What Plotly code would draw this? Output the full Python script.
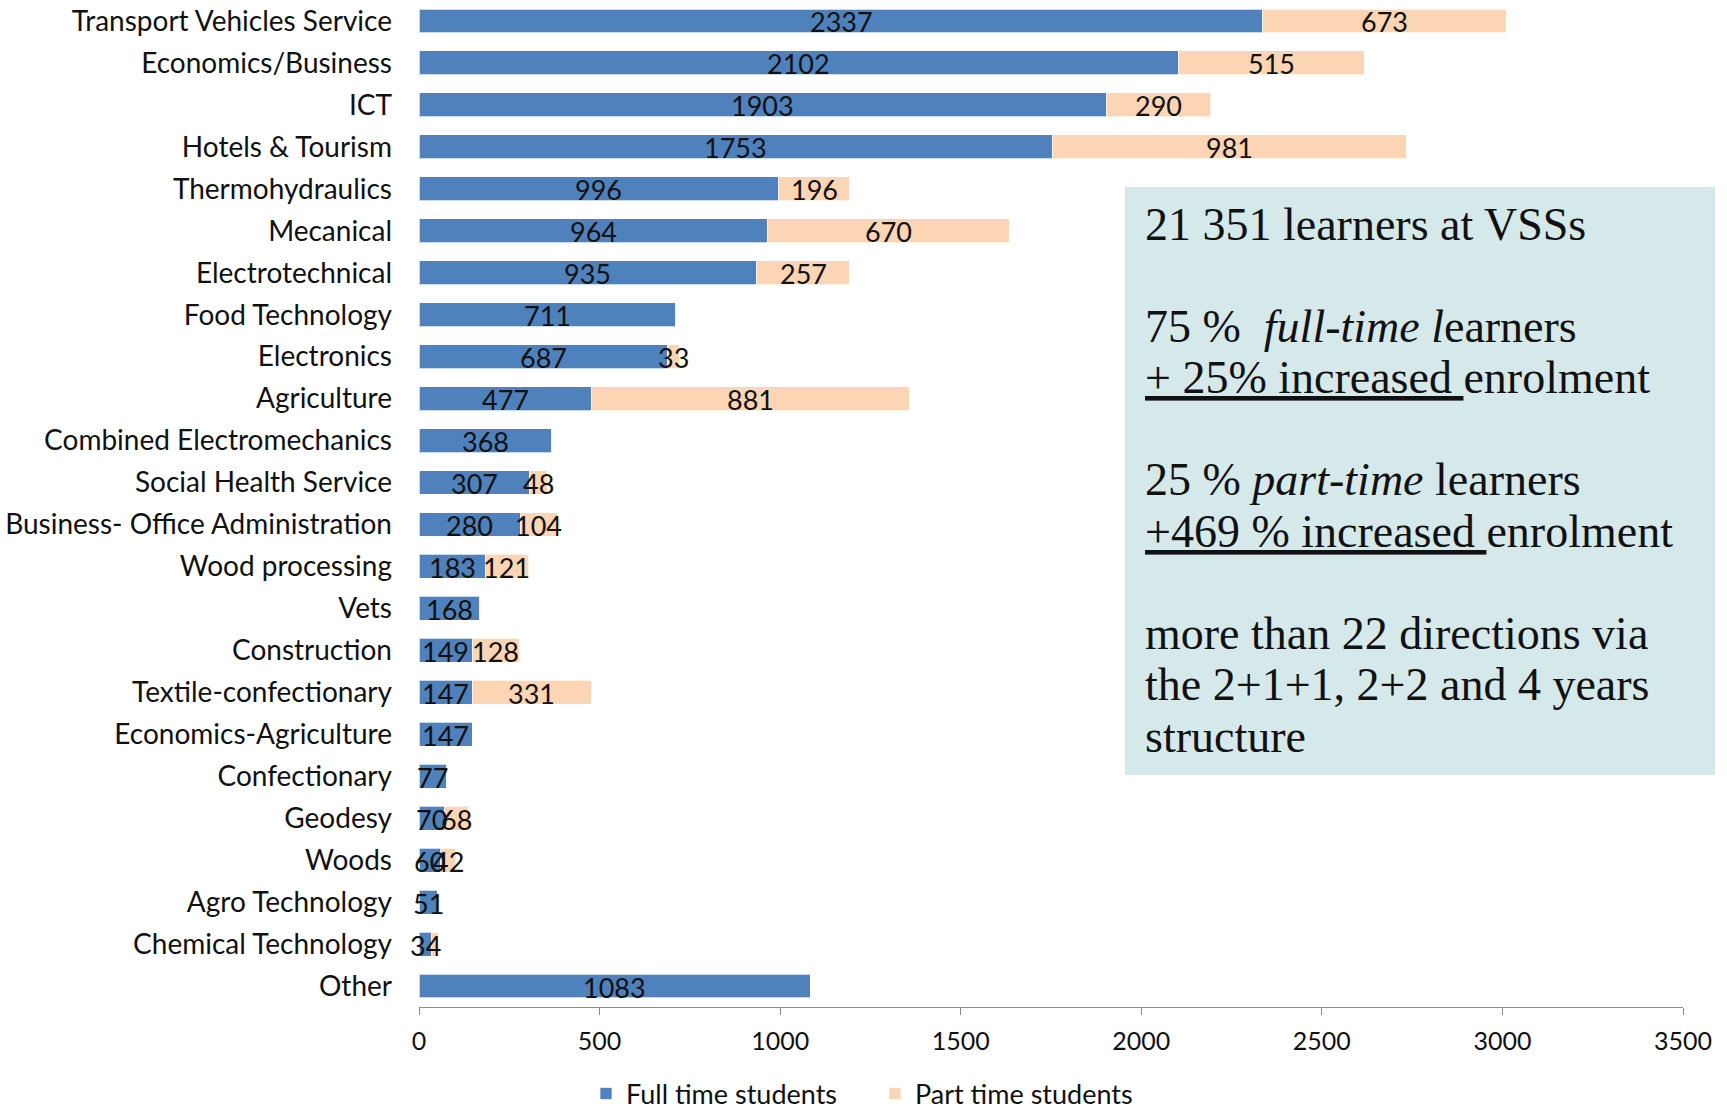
import plotly.graph_objects as go

# Enrolment per vocational direction (top to bottom)
categories = [
    "Transport Vehicles Service", "Economics/Business", "ICT", "Hotels & Tourism",
    "Thermohydraulics", "Mecanical", "Electrotechnical", "Food Technology",
    "Electronics", "Agriculture", "Combined Electromechanics", "Social Health Service",
    "Business- Office Administration", "Wood processing", "Vets", "Construction",
    "Textile-confectionary", "Economics-Agriculture", "Confectionary", "Geodesy",
    "Woods", "Agro Technology", "Chemical Technology", "Other",
]
full_time = [2337, 2102, 1903, 1753, 996, 964, 935, 711, 687, 477, 368, 307,
             280, 183, 168, 149, 147, 147, 77, 70, 60, 51, 34, 1083]
part_time = [673, 515, 290, 981, 196, 670, 257, 0, 33, 881, 0, 48,
             104, 121, 0, 128, 331, 0, 0, 68, 42, 0, 20, 0]
# directions whose part-time value carries no data label
part_time_unlabelled = ["Chemical Technology"]

x_ticks = [0, 500, 1000, 1500, 2000, 2500, 3000, 3500]

note_lines = [
    "21 351 learners at VSSs",
    None,
    "75 %\u00a0\u00a0<i>full-time l</i>earners",
    "<u>+ 25% increased\u00a0</u>enrolment",
    None,
    "25 % <i>part-time</i> learners",
    "<u>+469 % increased\u00a0</u>enrolment",
    None,
    "more than 22 directions via",
    "the 2+1+1, 2+2 and 4 years",
    "structure",
]

BLUE = "#4F81BD"
PEACH = "#FCD5B5"
INK = "#111111"
SANS = "Lato, 'Open Sans', sans-serif"
SERIF = "Georgia, 'Liberation Serif', serif"

fig = go.Figure()
fig.add_trace(go.Bar(
    y=categories, x=full_time, orientation="h", name="Full time students",
    marker=dict(color=BLUE, line=dict(color="rgba(255,255,255,0.7)", width=1)),
    hoverinfo="x+y",
))
fig.add_trace(go.Bar(
    y=categories, x=part_time, orientation="h", name="Part time students",
    marker=dict(color=PEACH, line=dict(color="rgba(255,255,255,0.7)", width=1)),
    hoverinfo="x+y",
))

# Data labels centred on each stacked segment (unclipped, so labels wider
# than a short segment still show in full)
for c, f, p in zip(categories, full_time, part_time):
    segments = [(f / 2, f)]
    if c not in part_time_unlabelled:
        segments.append((f + p / 2, p))
    for xc, v in segments:
        if v <= 0:
            continue
        fig.add_annotation(
            x=xc, y=c, xref="x", yref="y", text=str(v), showarrow=False,
            xanchor="center", yanchor="middle", yshift=-1,
            font=dict(family=SANS, size=27, color=INK),
        )

W, H = 1727, 1111
L, R, T, B = 419, 44, 0, 104
plot_w, plot_h = W - L - R, H - T - B


def px_x(px):
    return (px - L) / plot_w


def px_y(py):
    return (H - B - py) / plot_h


# Summary panel on the right
fig.add_shape(
    type="rect", xref="paper", yref="paper",
    x0=px_x(1125), x1=px_x(1715), y0=px_y(775), y1=px_y(187),
    fillcolor="#D5E8EA", line=dict(width=0), layer="below",
)
line_pitch = 51.2
for i, line in enumerate(note_lines):
    if line is None:
        continue
    fig.add_annotation(
        xref="paper", yref="paper", x=px_x(1143), y=px_y(224 + i * line_pitch),
        xanchor="left", yanchor="middle", text=line, showarrow=False,
        font=dict(family=SERIF, size=46, color=INK), align="left",
    )

fig.update_layout(
    template="none",
    width=W, height=H,
    margin=dict(l=L, r=R, t=T, b=B, autoexpand=False),
    barmode="stack", bargap=0.43,
    paper_bgcolor="white", plot_bgcolor="white",
    font=dict(family=SANS, size=26, color=INK),
    showlegend=True,
    legend=dict(
        orientation="h", x=px_x(875), y=px_y(1094), xanchor="center", yanchor="middle",
        font=dict(family=SANS, size=27, color=INK), traceorder="normal",
        bgcolor="rgba(0,0,0,0)", entrywidth=244, entrywidthmode="pixels",
    ),
    xaxis=dict(
        range=[0, 3500], tickvals=x_ticks, ticktext=[str(t) for t in x_ticks],
        showgrid=False, zeroline=False, showline=True, linecolor="#8C8C8C", linewidth=1,
        ticks="outside", ticklen=7, tickcolor="#8C8C8C", tickwidth=1,
        tickfont=dict(family=SANS, size=25, color=INK),
        ticklabelstandoff=5, automargin=False,
    ),
    yaxis=dict(
        type="category", range=[len(categories) - 0.5, -0.5],
        showgrid=False, zeroline=False, showline=False, ticks="",
        tickfont=dict(family=SANS, size=28, color=INK),
        ticklabelstandoff=26, automargin=False,
    ),
)

fig.write_html("out.html")
